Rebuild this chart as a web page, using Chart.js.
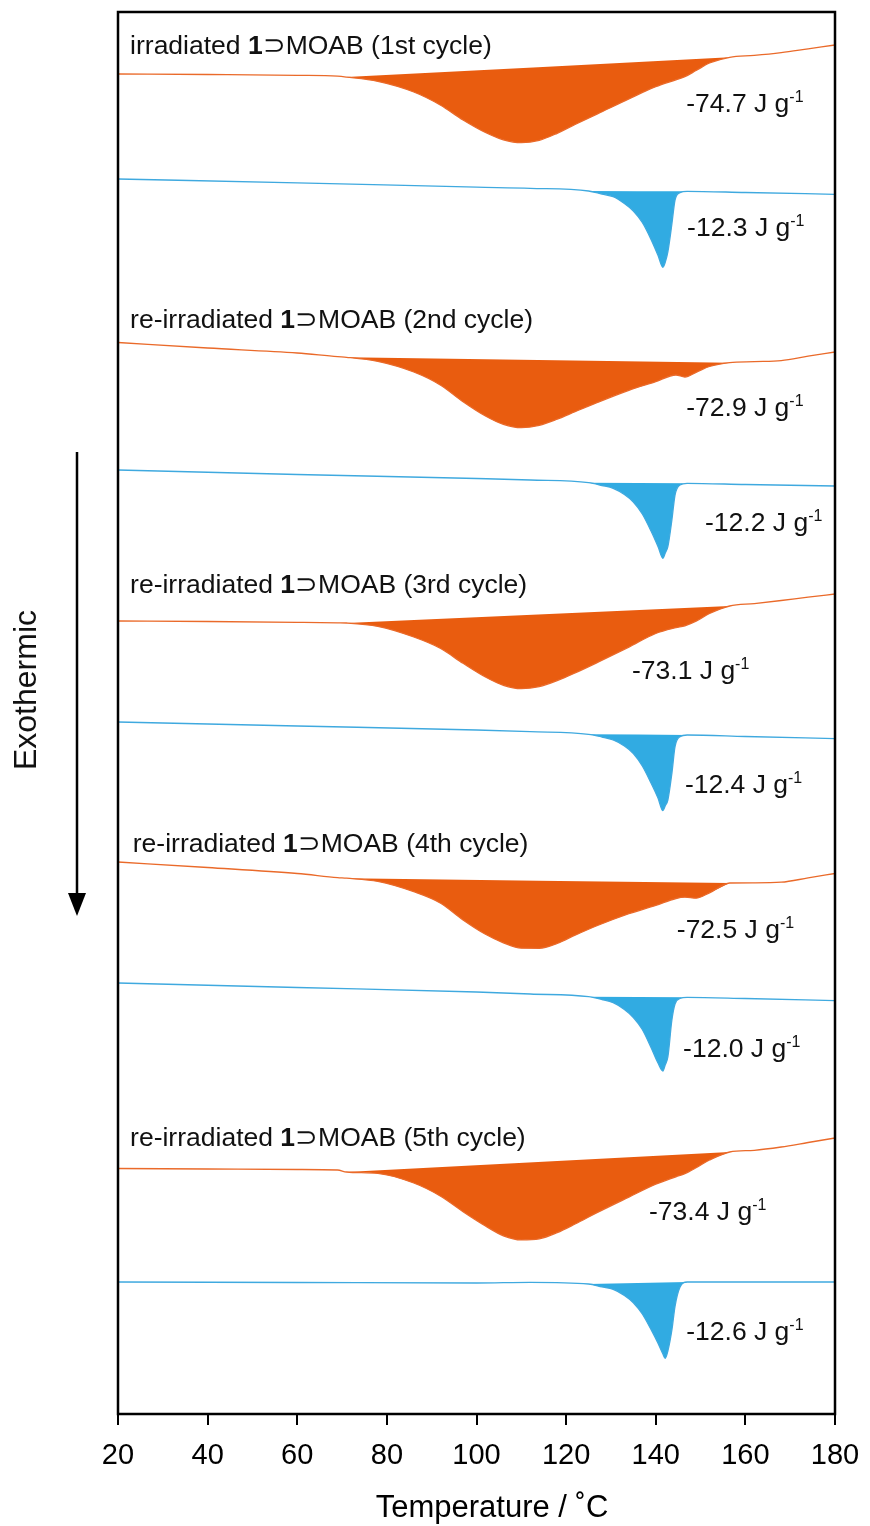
<!DOCTYPE html>
<html>
<head>
<meta charset="utf-8">
<script src="https://cdn.jsdelivr.net/npm/chart.js@4.4.1/dist/chart.umd.min.js"></script>
<style>
  body { margin: 0; background: #fff; }
  #wrap { width: 870px; height: 1526px; position: relative; }
</style>
</head>
<body>
<div id="wrap"><canvas id="myChart"></canvas></div>
<script>
// temperature grids (deg C)
const exoTemp = [20, 40, 60, 69, 71, 78, 86, 92, 97, 102, 106, 110, 114, 118, 122, 127, 134, 140, 144.5, 146.5, 149, 152, 156.5, 162, 168, 174, 180];
const endoTemp = [20, 60, 100, 112, 125, 128, 130.5, 133, 135, 137, 139, 140.5, 141.6, 142.1, 142.7, 143.6, 144.3, 145.4, 147, 160, 180];

// stacked heat flow traces, exothermic downward (arb. units)
const exoCycle1 = [7.40, 7.45, 7.53, 7.62, 7.71, 8.14, 9.20, 10.52, 12.00, 13.25, 13.98, 14.27, 14.03, 13.33, 12.45, 11.39, 9.89, 8.67, 7.98, 7.67, 7.05, 6.30, 5.73, 5.54, 5.26, 4.88, 4.50];
const exoCycle2 = [34.25, 34.80, 35.30, 35.67, 35.73, 36.14, 37.20, 38.52, 40.17, 41.60, 42.43, 42.77, 42.53, 41.92, 41.17, 40.24, 39.03, 38.17, 37.50, 37.70, 37.23, 36.65, 36.27, 36.17, 36.06, 35.62, 35.20];
const exoCycle3 = [62.10, 62.15, 62.23, 62.28, 62.30, 62.64, 63.70, 64.85, 66.33, 67.70, 68.53, 68.87, 68.66, 68.06, 67.29, 66.24, 64.71, 63.35, 62.77, 62.58, 62.12, 61.35, 60.60, 60.36, 60.05, 59.71, 59.40];
const exoCycle4 = [86.20, 86.75, 87.35, 87.76, 87.82, 88.14, 89.17, 90.32, 92.00, 93.43, 94.28, 94.82, 94.83, 94.35, 93.52, 92.55, 91.37, 90.54, 89.85, 89.72, 89.82, 89.28, 88.30, 88.28, 88.22, 87.79, 87.35];
const exoCycle5 = [116.85, 116.90, 116.95, 117.00, 117.20, 117.34, 118.30, 119.62, 121.17, 122.60, 123.58, 123.99, 123.88, 123.26, 122.40, 121.24, 119.71, 118.42, 117.68, 117.37, 116.78, 116.00, 115.20, 115.03, 114.70, 114.25, 113.80];

const endoCycle1 = [17.90, 18.28, 18.72, 18.83, 19.10, 19.41, 19.67, 20.35, 21.10, 22.25, 23.99, 25.53, 26.73, 26.26, 25.20, 22.40, 20.00, 19.27, 19.13, 19.25, 19.43];
const endoCycle2 = [47.00, 47.45, 47.85, 48.00, 48.27, 48.55, 48.83, 49.45, 50.20, 51.40, 53.15, 54.65, 55.83, 55.32, 54.67, 52.00, 49.50, 48.50, 48.33, 48.45, 48.60];
const endoCycle3 = [72.20, 72.60, 73.00, 73.17, 73.43, 73.70, 74.00, 74.60, 75.35, 76.60, 78.35, 79.80, 81.07, 80.60, 80.00, 77.33, 74.67, 73.67, 73.50, 73.65, 73.87];
const endoCycle4 = [98.30, 98.75, 99.20, 99.40, 99.67, 99.95, 100.27, 100.95, 101.75, 102.95, 104.80, 106.30, 107.10, 106.50, 105.70, 102.00, 100.40, 99.85, 99.73, 99.85, 100.07];
const endoCycle5 = [128.20, 128.25, 128.30, 128.23, 128.40, 128.69, 128.93, 129.54, 130.27, 131.40, 133.00, 134.32, 135.40, 135.83, 135.10, 133.00, 130.63, 128.73, 128.20, 128.20, 128.20];

// integration limits (deg C)
const exoRange = [71, 156.5];
const endoRange = [125, 147];

const cycleNames = ['1st', '2nd', '3rd', '4th', '5th'];
const samplePrefix = ['irradiated', 're-irradiated', 're-irradiated', 're-irradiated', 're-irradiated'];
const exoEnthalpy = [-74.7, -72.9, -73.1, -72.5, -73.4];
const endoEnthalpy = [-12.3, -12.2, -12.4, -12.0, -12.6];
const tickValues = [20, 40, 60, 80, 100, 120, 140, 160, 180];

// label anchors [T, y]
const headingPos = [[22.7, 4.4], [22.7, 31.8], [22.7, 58.3], [23.3, 84.2], [22.7, 113.6]];
const exoLabelPos = [[146.8, 10.2], [146.8, 40.6], [134.7, 66.9], [144.7, 92.8], [138.5, 121.0]];
const endoLabelPos = [[147.0, 22.6], [151.0, 52.1], [146.5, 78.3], [146.1, 104.7], [146.8, 133.0]];

const FONT = "'Liberation Sans', Arial, Helvetica, sans-serif";
const ORANGE_FILL = '#E95C0F';
const ORANGE_LINE = '#EA6A2A';
const BLUE_FILL = '#31ABE2';
const BLUE_LINE = '#3FA9DF';

const exoTraces = [exoCycle1, exoCycle2, exoCycle3, exoCycle4, exoCycle5];
const endoTraces = [endoCycle1, endoCycle2, endoCycle3, endoCycle4, endoCycle5];

function points(temps, vals) {
    return temps.map((t, i) => ({x: t, y: vals[i]}));
}

function traceSets(temps, vals, range, lineColor, fillColor) {
    const all = points(temps, vals);
    const peak = all.filter(p => p.x >= range[0] && p.x <= range[1]);
    const base = [peak[0], peak[peak.length - 1]];
    return [
        { data: all, borderColor: lineColor, borderWidth: 1.3, fill: false },
        { data: peak, borderWidth: 0, borderColor: fillColor, backgroundColor: fillColor, fill: '+1' },
        { data: base, borderWidth: 0, borderColor: fillColor, fill: false }
    ];
}

let datasets = [];
for (let i = 0; i < 5; i++) {
    datasets = datasets.concat(traceSets(exoTemp, exoTraces[i], exoRange, ORANGE_LINE, ORANGE_FILL));
    datasets = datasets.concat(traceSets(endoTemp, endoTraces[i], endoRange, BLUE_LINE, BLUE_FILL));
}

function drawRuns(ctx, x, y, runs) {
    runs.forEach(r => {
        ctx.font = r.font;
        ctx.fillText(r.text, x, y + (r.dy || 0));
        x += ctx.measureText(r.text).width;
    });
}

const decorations = {
    id: 'decorations',
    afterDatasetsDraw(chart) {
        const ctx = chart.ctx;
        const a = chart.chartArea;
        const xs = chart.scales.x, ys = chart.scales.y;
        ctx.save();
        ctx.strokeStyle = '#000';
        ctx.lineWidth = 2.5;
        ctx.strokeRect(a.left, a.top, a.right - a.left, a.bottom - a.top);

        ctx.fillStyle = '#111';
        ctx.textBaseline = 'alphabetic';
        ctx.textAlign = 'left';
        const norm = '26.5px ' + FONT, bold = 'bold 26.5px ' + FONT, sup = '16px ' + FONT;
        for (let i = 0; i < 5; i++) {
            let p = headingPos[i];
            drawRuns(ctx, xs.getPixelForValue(p[0]), ys.getPixelForValue(p[1]) + 9.5, [
                {text: samplePrefix[i] + ' ', font: norm},
                {text: '1', font: bold},
                {text: '\u2283MOAB (' + cycleNames[i] + ' cycle)', font: norm}
            ]);
            p = exoLabelPos[i];
            drawRuns(ctx, xs.getPixelForValue(p[0]), ys.getPixelForValue(p[1]) + 9.5, [
                {text: exoEnthalpy[i].toFixed(1) + ' J g', font: norm},
                {text: '-1', font: sup, dy: -10}
            ]);
            p = endoLabelPos[i];
            drawRuns(ctx, xs.getPixelForValue(p[0]), ys.getPixelForValue(p[1]) + 9.5, [
                {text: endoEnthalpy[i].toFixed(1) + ' J g', font: norm},
                {text: '-1', font: sup, dy: -10}
            ]);
        }

        // axis title (sits a little right of centre in the original)
        ctx.fillStyle = '#000';
        ctx.font = '31px ' + FONT;
        ctx.textAlign = 'center';
        ctx.textBaseline = 'middle';
        ctx.fillText('Temperature / \u02DAC', 492, 1508);

        // exothermic arrow
        ctx.strokeStyle = '#000';
        ctx.lineWidth = 2.5;
        ctx.beginPath();
        ctx.moveTo(77, 452);
        ctx.lineTo(77, 898);
        ctx.stroke();
        ctx.beginPath();
        ctx.moveTo(68, 893);
        ctx.lineTo(86, 893);
        ctx.lineTo(77, 916);
        ctx.closePath();
        ctx.fill();

        ctx.translate(27, 690);
        ctx.rotate(-Math.PI / 2);
        ctx.font = '32px ' + FONT;
        ctx.fillStyle = '#111';
        ctx.fillText('Exothermic', 0, 0);
        ctx.restore();
    }
};

const ctx = document.getElementById('myChart').getContext('2d');
const chart = new Chart(ctx, {
    type: 'line',
    data: { datasets: datasets },
    options: {
        responsive: true,
        maintainAspectRatio: false,
        animation: false,
        layout: { padding: { left: 118, right: 35, top: 12, bottom: 0 } },
        elements: {
            point: { radius: 0 },
            line: { cubicInterpolationMode: 'monotone' }
        },
        plugins: {
            legend: { display: false },
            tooltip: { enabled: false }
        },
        scales: {
            x: {
                type: 'linear',
                min: 20,
                max: 180,
                afterBuildTicks: s => { s.ticks = tickValues.map(v => ({value: v})); },
                afterFit: s => {
                    s.height = 112;
                    s.paddingLeft = 0;
                    s.paddingRight = 0;
                },
                ticks: {
                    color: '#000',
                    font: { family: FONT, size: 29 },
                    padding: 14,
                    maxRotation: 0,
                    autoSkip: false
                },
                grid: {
                    drawOnChartArea: false,
                    drawTicks: true,
                    tickLength: 11,
                    color: '#000',
                    lineWidth: 2
                },
                border: { display: false },
                title: { display: false }
            },
            y: {
                type: 'linear',
                display: false,
                reverse: true,
                min: 1.2,
                max: 141.4
            }
        }
    },
    plugins: [decorations]
});
</script>
</body>
</html>
